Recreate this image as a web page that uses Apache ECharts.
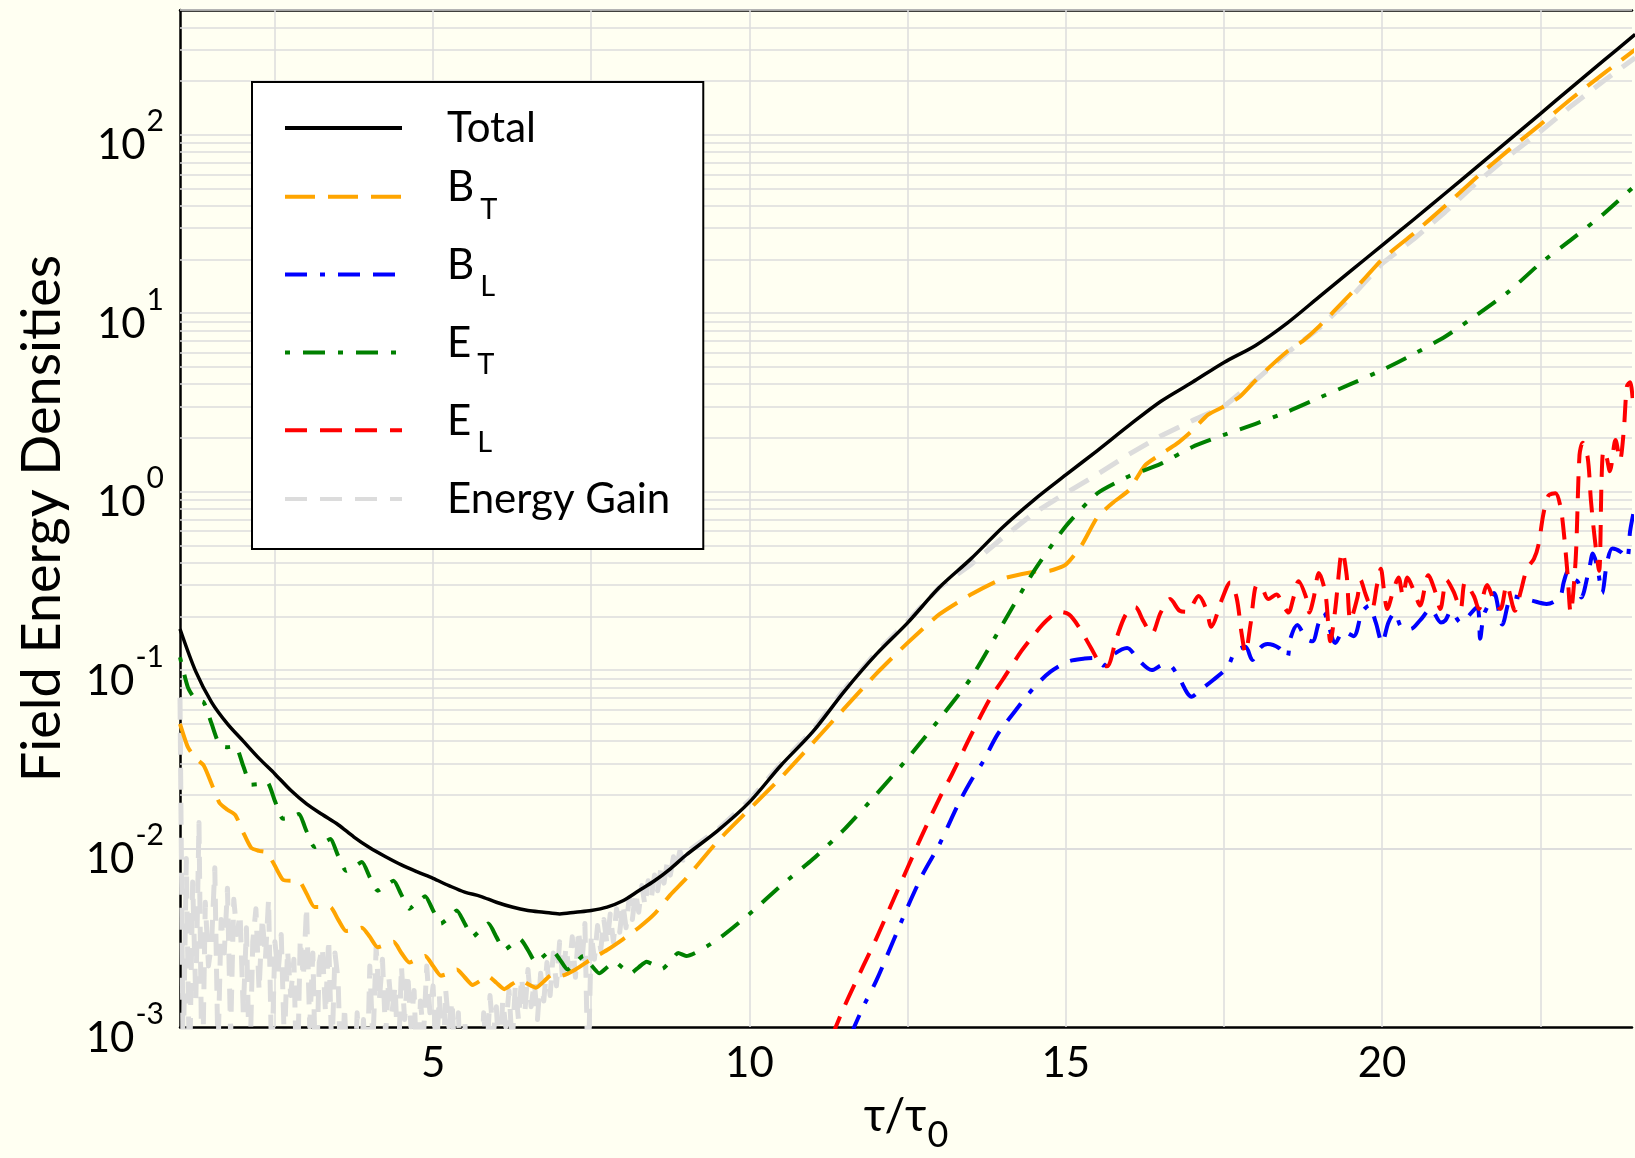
<!DOCTYPE html>
<html>
<head>
<meta charset="utf-8">
<script src="https://cdn.jsdelivr.net/npm/echarts@6/dist/echarts.min.js"></script>
<style>
html,body{margin:0;padding:0;background:#fffff2;}
#chart{width:1635px;height:1158px;}
</style>
</head>
<body>
<div id="chart"></div>
<script>
// ---------------- data ----------------
const seriesNames = ['Total', 'BT', 'BL', 'ET', 'EL', 'Energy Gain'];

// tau sampling for Total
const tauMain = [1.00,1.25,1.50,1.75,2.00,2.25,2.50,2.75,3.00,3.25,3.50,3.75,4.00,4.25,4.50,4.75,5.00,5.25,5.50,5.75,6.00,6.25,6.50,6.75,7.00,7.25,7.50,7.75,8.00,8.25,8.50,8.75,9.00,
  9.5,10,10.5,11,11.5,12,12.5,13,13.5,14,14.5,15,15.5,16,16.5,17,17.5,18,18.5,19,19.5,20,20.5,21,21.5,22,22.5,23,23.5,24];

const totalVals = [0.170,0.098,0.066,0.050,0.040,0.032,0.0262,0.0212,0.0178,0.0155,0.0136,0.0116,0.0101,0.0090,0.0081,0.0074,0.0068,0.0062,0.0057,0.0054,0.0050,0.0047,0.0045,0.0044,0.0043,0.0044,0.0045,0.0047,0.0051,0.0058,0.0066,0.0077,0.0092,
  0.0126,0.0182,0.0293,0.045,0.076,0.122,0.184,0.29,0.42,0.63,0.90,1.24,1.70,2.35,3.2,4.1,5.3,6.6,8.8,12.3,17.2,24,33.5,47,66,93,131,185,260,365];

const eTransPts = [[1.00,0.118],[1.125,0.080],[1.25,0.068],[1.375,0.066],[1.50,0.050],[1.625,0.038],[1.75,0.037],[1.875,0.0375],[2.00,0.029],[2.125,0.0228],[2.25,0.023],[2.375,0.0236],[2.50,0.0185],[2.625,0.0147],[2.75,0.0149],[2.875,0.0156],[3.00,0.0125],[3.125,0.0102],[3.25,0.0107],[3.375,0.0113],[3.50,0.0091],[3.625,0.0075],[3.75,0.0079],[3.875,0.0084],[4.00,0.0069],[4.125,0.0058],[4.25,0.0062],[4.375,0.0066],[4.50,0.0055],[4.625,0.0046],[4.75,0.0050],[4.875,0.0054],[5.00,0.0045],[5.125,0.0038],[5.25,0.0041],[5.375,0.0045],[5.50,0.0038],[5.625,0.0032],[5.75,0.0035],[5.875,0.0038],[6.00,0.0032],[6.125,0.0027],[6.25,0.0029],[6.375,0.0031],[6.50,0.0027],[6.625,0.0023],[6.75,0.0025],[6.875,0.0027],[7.00,0.0024],[7.125,0.0021],[7.25,0.0023],[7.375,0.0025],[7.50,0.00222],[7.625,0.0020],[7.75,0.00216],[7.875,0.00232],[8.00,0.00214],[8.125,0.0020],[8.25,0.00216],[8.375,0.00232],[8.50,0.00222],[8.625,0.00212],[8.75,0.00234],[8.875,0.0026],[9.00,0.0025],
  [9.5,0.0031],[10,0.0043],[10.5,0.0062],[11,0.0087],[11.5,0.0128],[12,0.0200],[12.5,0.032],[13,0.053],[13.5,0.090],[14,0.18],[14.5,0.36],[15,0.64],[15.5,0.98],[16,1.22],[16.5,1.43],[17,1.78],[17.5,2.08],[18,2.4],[18.5,2.8],[19,3.35],[19.5,4.0],[20,4.8],[20.5,5.9],[21,7.4],[21.5,9.8],[22,13.2],[22.5,19],[23,26],[23.5,36],[24,52]];

const bTransPts = [[1.00,0.050],[1.125,0.037],[1.25,0.032],[1.375,0.0292],[1.50,0.023],[1.625,0.0180],[1.75,0.0165],[1.875,0.0154],[2.00,0.0123],[2.125,0.0101],[2.25,0.0097],[2.375,0.0095],[2.50,0.0080],[2.625,0.0067],[2.75,0.0066],[2.875,0.0066],[3.00,0.0056],[3.125,0.0047],[3.25,0.0047],[3.375,0.0047],[3.50,0.0040],[3.625,0.00345],[3.75,0.0035],[3.875,0.0036],[4.00,0.0032],[4.125,0.0028],[4.25,0.0029],[4.375,0.0030],[4.50,0.0026],[4.625,0.0023],[4.75,0.0024],[4.875,0.0025],[5.00,0.0022],[5.125,0.00194],[5.25,0.0020],[5.375,0.0021],[5.50,0.0019],[5.625,0.00172],[5.75,0.00182],[5.875,0.00192],[6.00,0.00177],[6.125,0.00163],[6.25,0.00174],[6.375,0.00184],[6.50,0.00174],[6.625,0.00166],[6.75,0.0018],[6.875,0.00196],[7.00,0.00192],[7.25,0.0021],[7.50,0.0024],[7.75,0.0027],[8.00,0.0031],[8.25,0.0036],[8.50,0.0043],[8.75,0.0055],[9.00,0.0068],
  [9.50,0.0110],[10.0,0.0166],[10.5,0.025],[11.0,0.039],[11.5,0.061],[12.0,0.095],[12.5,0.142],[13.0,0.205],[13.5,0.265],[14.0,0.325],[14.5,0.356],[14.75,0.36],[15.0,0.39],[15.25,0.50],[15.5,0.72],[15.75,0.87],[16.0,1.02],[16.25,1.4],[16.5,1.62],[16.75,1.85],[17.0,2.2],[17.25,2.7],[17.5,3.0],[17.75,3.4],[18.0,4.2],[18.25,5.1],[18.5,6.1],[18.75,7.0],[19.0,8.4],[19.5,12.8],[20.0,20],[20.5,28],[21.0,40],[21.5,58],[22.0,82],[22.5,114],[23.0,160],[23.5,220],[24.0,300]];

const bLongPts = [[11.60,0.0009],[11.80,0.0013],[12.00,0.0018],[12.25,0.0029],[12.50,0.0047],[12.75,0.0073],[13.00,0.0105],[13.30,0.0177],[13.50,0.0239],[13.70,0.031],[13.92,0.0435],[14.20,0.059],[14.50,0.080],[14.76,0.098],[15.05,0.112],[15.30,0.116],[15.45,0.117],[15.60,0.106],[15.75,0.122],[15.97,0.133],[16.15,0.114],[16.36,0.100],[16.54,0.107],[16.65,0.106],[16.78,0.092],[16.99,0.071],[17.12,0.077],[17.33,0.088],[17.55,0.103],[17.68,0.127],[17.84,0.135],[17.95,0.114],[18.08,0.134],[18.19,0.140],[18.37,0.133],[18.50,0.118],[18.55,0.150],[18.66,0.179],[18.80,0.150],[18.90,0.145],[19.00,0.185],[19.08,0.210],[19.16,0.175],[19.26,0.142],[19.39,0.165],[19.55,0.155],[19.68,0.210],[19.79,0.230],[19.90,0.185],[20.00,0.142],[20.10,0.185],[20.20,0.210],[20.30,0.175],[20.45,0.170],[20.60,0.190],[20.77,0.220],[20.93,0.185],[21.00,0.190],[21.09,0.215],[21.24,0.185],[21.50,0.225],[21.55,0.150],[21.60,0.200],[21.66,0.225],[21.77,0.270],[21.90,0.180],[22.05,0.260],[22.18,0.255],[22.37,0.245],[22.60,0.235],[22.70,0.240],[22.82,0.260],[22.87,0.310],[22.94,0.360],[23.00,0.330],[23.10,0.310],[23.15,0.255],[23.28,0.380],[23.33,0.450],[23.40,0.380],[23.48,0.270],[23.55,0.390],[23.64,0.480],[23.77,0.460],[23.87,0.420],[23.92,0.600],[23.97,0.750]];

const eLongPts = [[11.30,0.00088],[11.50,0.0013],[11.80,0.0022],[12.00,0.0031],[12.30,0.0054],[12.50,0.0078],[12.70,0.0113],[13.00,0.019],[13.20,0.026],[13.50,0.043],[13.80,0.069],[14.00,0.088],[14.30,0.128],[14.50,0.158],[14.70,0.190],[14.90,0.212],[15.05,0.205],[15.20,0.176],[15.40,0.133],[15.55,0.108],[15.65,0.105],[15.80,0.150],[15.95,0.205],[16.10,0.225],[16.22,0.190],[16.36,0.160],[16.50,0.210],[16.65,0.250],[16.80,0.215],[16.92,0.212],[17.10,0.260],[17.22,0.220],[17.30,0.175],[17.47,0.250],[17.60,0.310],[17.70,0.255],[17.78,0.160],[17.84,0.125],[17.92,0.180],[18.02,0.300],[18.10,0.290],[18.20,0.250],[18.33,0.265],[18.44,0.230],[18.52,0.210],[18.60,0.255],[18.68,0.315],[18.80,0.255],[18.85,0.210],[18.92,0.255],[19.00,0.350],[19.10,0.275],[19.15,0.180],[19.18,0.145],[19.26,0.220],[19.34,0.420],[19.37,0.460],[19.44,0.340],[19.50,0.190],[19.61,0.255],[19.66,0.320],[19.74,0.265],[19.84,0.220],[19.92,0.300],[19.98,0.370],[20.03,0.280],[20.08,0.220],[20.19,0.290],[20.26,0.330],[20.33,0.260],[20.40,0.330],[20.50,0.280],[20.60,0.230],[20.73,0.340],[20.84,0.275],[20.92,0.220],[21.02,0.320],[21.13,0.275],[21.24,0.220],[21.31,0.310],[21.45,0.260],[21.53,0.220],[21.66,0.300],[21.76,0.250],[21.87,0.220],[21.97,0.300],[22.10,0.215],[22.19,0.275],[22.29,0.370],[22.40,0.420],[22.47,0.500],[22.55,0.750],[22.63,0.950],[22.74,0.980],[22.82,0.820],[22.87,0.600],[22.93,0.350],[22.98,0.210],[23.06,0.420],[23.12,1.60],[23.17,1.88],[23.25,1.55],[23.30,0.90],[23.36,0.55],[23.43,0.36],[23.47,1.20],[23.50,1.70],[23.55,1.55],[23.60,1.30],[23.69,1.95],[23.76,1.50],[23.82,2.20],[23.87,3.90],[23.92,4.10],[23.97,3.00]];

// Energy gain: noisy early part sampled every 0.05 starting at tau = 1.00
const gainNoisyStart = 1.0;
const gainNoisyStep = 0.05;
const gainNoisyVals = [0.070,0.0006,0.0088,0.0005,0.0065,0.0014,0.0140,0.0004,0.0050,0.0022,
  0.0030,0.0078,0.0007,0.0040,0.0026,0.0060,0.0009,0.0052,0.0033,0.0043,
  0.0012,0.0036,0.0005,0.0030,0.0046,0.0016,0.0041,0.0024,0.0052,0.0006,
  0.0030,0.0020,0.0033,0.0008,0.0027,0.0015,0.0024,0.0004,0.0031,0.0019,
  0.0047,0.0010,0.0026,0.0004,0.0023,0.0028,0.0012,0.0031,0.0007,0.0026,
  0.0018,0.0004,0.0013,0.0005,0.0009,0.0004,0.0012,0.0006,0.0011,0.0004,
  0.0022,0.0008,0.0028,0.0014,0.0024,0.0009,0.0019,0.0012,0.0017,0.0006,
  0.0022,0.0011,0.0020,0.0010,0.0016,0.0005,0.0014,0.0009,0.0022,0.0012,
  0.0017,0.0007,0.0015,0.0005,0.0016,0.0010,0.0014,0.0006,0.0012,0.0004,
  0.0011,0.0005,0.0009,0.0004,0.0008,0.0005,0.0012,0.0007,0.0015,0.0009,
  0.0013,0.0006,0.0014,0.0010,0.0016,0.0008,0.0017,0.0011,0.0019,0.0012,
  0.0021,0.0013,0.0018,0.0011,0.0020,0.0014,0.0023,0.0015,0.0026,0.0017,
  0.0030,0.0018,0.0028,0.0021,0.0032,0.0019,0.0035,0.0022,0.0038,0.0005,
  0.0033,0.0024,0.0037,0.0027,0.0040,0.0029,0.0043,0.0030,0.0046,0.0034,
  0.0049,0.0036,0.0053,0.0040,0.0057,0.0044,0.0062,0.0048,0.0066,0.0053,
  0.0071,0.0058,0.0077,0.0064,0.0083,0.0071,0.0090,0.0079,0.0097,0.0086,
  0.0095];
const gainLatePts = [[9.5,0.0128],[10,0.0186],[10.5,0.030],[11,0.046],[11.5,0.078],[12,0.125],[12.5,0.188],[13,0.29],[13.5,0.39],[14,0.55],[14.5,0.76],[15,0.98],[15.5,1.25],[16,1.62],[16.5,2.05],[17,2.5],[17.5,3.0],[18,4.2],[18.5,6.0],[19,8.2],[19.5,12.2],[20,19],[20.5,26],[21,37],[21.5,54],[22,76],[22.5,104],[23,146],[23.5,200],[24,270]];

// axis ticks / gridlines
const xMin = 1, xMax = 23.95;
const xTickLabels = [5, 10, 15, 20];
const xGridLines = [2.5, 5, 7.5, 10, 12.5, 15, 17.5, 20, 22.5];
const yDecades = [-3, -2, -1, 0, 1, 2];
const yMinorMults = [1, 2, 3, 4, 5, 6, 7, 8, 9];

// ---------------- build ----------------
const FONT = 'Lato, "Noto Sans", "DejaVu Sans", sans-serif';
const zip = (xs, ys) => xs.map((x, i) => [x, ys[i]]);
const gainPts = gainNoisyVals.map((v, i) => [+(gainNoisyStart + i * gainNoisyStep).toFixed(2), v]).concat(gainLatePts);

const yGridVals = [];
yDecades.forEach(e => yMinorMults.forEach(k => {
  const v = k * Math.pow(10, e);
  if (v <= 500 && v > 0.001) yGridVals.push(v);
}));

const legendLabels = {
  'Total': '{mc|Total}',
  'BT': '{m|B}{sub|T}',
  'BL': '{m|B}{sub|L}',
  'ET': '{m|E}{sub|T}',
  'EL': '{m|E}{sub|L}',
  'Energy Gain': '{mc|Energy Gain}'
};

function lineSeries(name, data, color, width, type, z, smooth) {
  return {
    name: name, type: 'line', data: data,
    symbol: 'none', showSymbol: false, smooth: smooth, clip: true, z: z,
    lineStyle: { color: color, width: width, type: type, cap: 'butt', join: 'round' },
    itemStyle: { color: color },
    emphasis: { disabled: true },
    animation: false
  };
}

const chart = echarts.init(document.getElementById('chart'), null, { renderer: 'canvas', width: 1635, height: 1158 });

const option = {
  backgroundColor: '#fffff2',
  animation: false,
  textStyle: { fontFamily: FONT },
  grid: { left: 180, top: 10, right: 0, bottom: 128, show: false },
  xAxis: [{
    type: 'value', min: xMin, max: xMax,
    axisLine: { show: true, onZero: false, lineStyle: { color: '#000', width: 2.5 } },
    axisTick: { show: false },
    splitLine: { show: false },
    axisLabel: {
      fontSize: 42, color: '#000', margin: 15, fontFamily: FONT,
      formatter: v => xTickLabels.indexOf(v) >= 0 ? String(v) : ''
    },
    name: '{t|τ/τ}{sub|0}',
    nameLocation: 'middle', nameGap: 66,
    nameTextStyle: {
      rich: {
        t: { fontSize: 46, lineHeight: 60, verticalAlign: 'top', color: '#000', fontFamily: FONT },
        sub: { fontSize: 36, lineHeight: 60, verticalAlign: 'bottom', color: '#000', fontFamily: FONT, padding: [0, 0, 0, 1] }
      }
    }
  }, {
    type: 'value', position: 'top', min: xMin, max: xMax,
    axisLine: { show: true, onZero: false, lineStyle: { color: '#000', width: 2.5 } },
    axisTick: { show: false }, axisLabel: { show: false }, splitLine: { show: false }
  }],
  yAxis: {
    type: 'log', logBase: 10, min: 0.001, max: 500,
    axisLine: { show: true, onZero: false, lineStyle: { color: '#000', width: 2.5 } },
    axisTick: { show: false },
    splitLine: { show: false },
    axisLabel: {
      margin: 16, showMaxLabel: false,
      formatter: function (v) {
        const e = Math.round(Math.log10(v));
        if (Math.abs(v / Math.pow(10, e) - 1) > 1e-6) return '';
        return '{b|10}{s|' + e + '}';
      },
      rich: {
        b: { fontSize: 42, lineHeight: 64, verticalAlign: 'bottom', color: '#000', fontFamily: FONT },
        s: { fontSize: 30, lineHeight: 64, verticalAlign: 'top', color: '#000', fontFamily: FONT, padding: [4, 0, 0, 1] }
      }
    },
    name: 'Field Energy Densities',
    nameLocation: 'middle', nameGap: 110,
    nameTextStyle: { fontSize: 54, color: '#000', fontFamily: FONT }
  },
  legend: {
    data: seriesNames,
    z: 10,
    orient: 'vertical', left: 252, top: 82,
    padding: [25, 33, 29, 31],
    itemGap: 17.8, itemWidth: 117, itemHeight: 4,
    backgroundColor: '#ffffff', borderColor: '#000', borderWidth: 2, borderRadius: 0,
    selectedMode: false,
    lineStyle: { width: 4 },
    itemStyle: { color: 'rgba(0,0,0,0)', borderWidth: 0, borderColor: 'rgba(0,0,0,0)' },
    formatter: name => legendLabels[name],
    textStyle: {
      color: '#000', fontFamily: FONT,
      rich: {
        mc: { fontSize: 42, lineHeight: 60, color: '#000', fontFamily: FONT, padding: [0, 0, 0, 40] },
        m: { fontSize: 42, lineHeight: 60, verticalAlign: 'top', color: '#000', fontFamily: FONT, padding: [0, 0, 0, 40] },
        sub: { fontSize: 29, lineHeight: 60, verticalAlign: 'bottom', color: '#000', fontFamily: FONT, padding: [0, 0, 3, 6] }
      }
    }
  },
  series: [
    {
      name: 'gridlines', type: 'line', data: [], silent: true, z: 1, animation: false,
      markLine: {
        z: 1, silent: true, symbol: ['none', 'none'], animation: false,
        label: { show: false },
        lineStyle: { color: '#dcdcdc', width: 1.5, type: 'solid' },
        emphasis: { disabled: true },
        data: yGridVals.map(v => ({ yAxis: v })).concat(xGridLines.map(v => ({ xAxis: v })))
      }
    },
    lineSeries('Energy Gain', gainPts, '#dcdcdc', 5, [22, 13], 2, false),
    lineSeries('BT', bTransPts, '#ffa500', 4, [30, 13], 3, 0.2),
    lineSeries('BL', bLongPts, '#0000ff', 4, [22, 13, 5, 13, 22, 13], 3, 0.3),
    lineSeries('ET', eTransPts, '#008000', 4, [5, 13, 22, 13], 3, 0.2),
    lineSeries('EL', eLongPts, '#ff0000', 4, [22, 13], 3, 0.3),
    lineSeries('Total', zip(tauMain, totalVals), '#000000', 3.5, 'solid', 4, 0.3)
  ]
};
chart.setOption(option);
</script>
</body>
</html>
